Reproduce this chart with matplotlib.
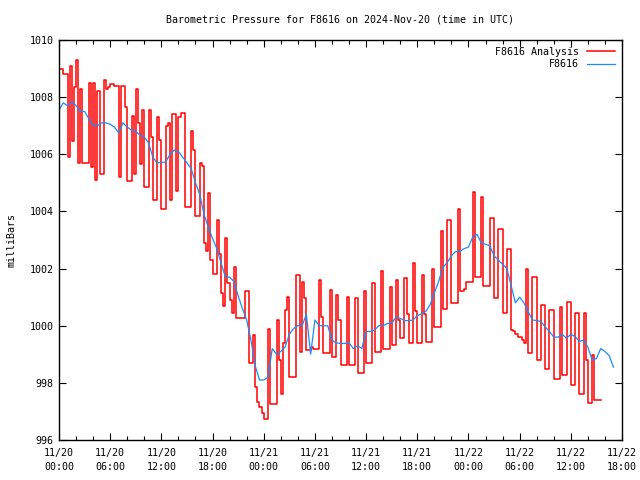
import numpy as np
import pandas as pd
import matplotlib
matplotlib.use("Agg")
import matplotlib.pyplot as plt
import matplotlib.dates as mdates

START = pd.Timestamp("2024-11-20 00:00")
RED_STEP_H = 0.25
BLUE_STEP_H = 0.5

# F8616 Analysis (red), quarter-hour samples from 11/20 00:00 (two hours per row)
analysis_mb = [
    1009.0, 1009.0, 1008.8, 1008.8, 1005.9, 1009.1, 1006.45, 1008.35,
    1009.3, 1005.7, 1008.3, 1005.7, 1005.7, 1005.7, 1008.5, 1005.55,
    1008.5, 1005.1, 1008.2, 1005.3, 1005.3, 1008.6, 1008.3, 1008.35,
    1008.45, 1008.45, 1008.4, 1008.4, 1005.2, 1008.4, 1008.4, 1007.65,
    1005.05, 1005.05, 1007.35, 1005.3, 1008.3, 1007.1, 1005.65, 1007.55,
    1004.85, 1004.85, 1007.55, 1006.6, 1004.4, 1004.4, 1007.3, 1006.5,
    1004.1, 1004.1, 1007.0, 1007.1, 1004.4, 1007.4, 1007.4, 1004.7,
    1007.3, 1007.45, 1007.45, 1004.15, 1004.15, 1004.15, 1006.8, 1006.15,
    1003.85, 1003.85, 1005.7, 1005.6, 1002.9, 1002.6, 1004.65, 1002.3,
    1001.8, 1001.8, 1003.7, 1002.5, 1001.15, 1000.7, 1003.07, 1001.5,
    1000.9, 1000.45, 1002.07, 1000.27, 1000.27, 1000.27, 1000.27, 1001.2,
    1001.2, 998.7, 998.7, 999.68, 997.87, 997.34, 997.17, 996.94,
    996.73, 996.73, 999.9, 997.26, 997.26, 997.26, 1000.2, 998.8,
    997.6, 999.38, 1000.55, 1001.0, 998.2, 998.2, 998.2, 1001.77,
    1001.77, 999.09, 1001.54, 1000.97, 999.15, 999.15, 999.25, 999.2,
    999.2, 999.2, 1001.6, 1000.3, 999.03, 999.03, 999.03, 1001.25,
    998.92, 998.92, 1001.08, 1000.2, 998.62, 998.62, 998.62, 1001.0,
    998.62, 998.62, 998.62, 1000.97, 998.36, 998.36, 998.36, 1001.2,
    998.7, 998.7, 998.7, 1001.5, 999.09, 999.09, 999.09, 1001.9,
    999.2, 999.2, 999.2, 1001.37, 999.33, 999.33, 1001.6, 1000.2,
    999.56, 999.56, 1001.67, 1000.4, 999.38, 999.38, 1002.2, 1000.5,
    999.38, 999.38, 1001.77, 1000.4, 999.44, 999.44, 999.44, 1002.0,
    999.97, 999.97, 999.97, 1003.3, 1000.6, 1000.6, 1003.7, 1003.7,
    1000.78, 1000.78, 1000.78, 1004.07, 1001.2, 1001.2, 1001.3, 1001.54,
    1001.54, 1001.54, 1004.69, 1001.72, 1001.72, 1001.72, 1004.5, 1001.38,
    1001.38, 1001.38, 1003.77, 1003.77, 1000.97, 1000.97, 1003.4, 1003.4,
    1000.43, 1000.43, 1002.68, 1002.68, 999.85, 999.8, 999.7, 999.62,
    999.6, 999.5, 999.4, 1001.98, 999.03, 999.03, 1001.72, 1001.72,
    998.8, 998.8, 1000.73, 1000.73, 998.47, 998.47, 1000.55, 1000.55,
    998.12, 998.12, 998.12, 1000.67, 998.27, 998.27, 1000.84, 1000.84,
    997.92, 997.92, 1000.45, 1000.45, 997.6, 997.6, 1000.43, 998.8,
    997.3, 997.3, 998.98, 997.4, 997.4, 997.4, 997.4,
]

# F8616 observed (blue), half-hour samples from 11/20 00:00
station_mb = [
    1007.55, 1007.8, 1007.7, 1007.85, 1007.7, 1007.5, 1007.5, 1007.25, 1007.0, 1007.0,
    1007.1, 1007.1, 1007.05, 1006.95, 1006.75, 1007.1, 1006.95, 1006.85, 1006.8, 1006.67,
    1006.6, 1006.4, 1005.9, 1005.7, 1005.72, 1005.72, 1006.0, 1006.15, 1006.1, 1005.9,
    1005.7, 1005.5, 1005.0, 1004.6, 1003.9, 1003.45, 1003.05, 1002.7, 1002.2, 1001.7,
    1001.7, 1001.55, 1001.05, 1000.6, 1000.2, 999.5, 998.6, 998.1, 998.1, 998.2,
    999.2, 999.0, 999.1, 999.25, 999.7, 999.9, 1000.0, 1000.0, 1000.4, 999.0,
    1000.2, 1000.0, 1000.0, 1000.0, 999.5, 999.4, 999.38, 999.38, 999.4, 999.2,
    999.3, 999.2, 999.8, 999.8, 999.85, 1000.0, 1000.0, 1000.08, 1000.08, 1000.3,
    1000.26, 1000.18, 1000.18, 1000.2, 1000.35, 1000.42, 1000.5, 1000.73, 1001.15, 1001.54,
    1002.05, 1002.2, 1002.45, 1002.6, 1002.6, 1002.7, 1002.75, 1003.1, 1003.2, 1002.9,
    1002.85, 1002.8, 1002.45, 1002.3, 1002.15, 1002.0, 1001.4, 1000.8, 1001.0, 1000.8,
    1000.5, 1000.2, 1000.18, 1000.15, 999.95, 999.8, 999.6, 999.6, 999.7, 999.56,
    999.7, 999.62, 999.45, 999.5, 999.25, 998.8, 998.85, 999.2, 999.1, 998.95,
    998.55,
]

t_analysis = START + pd.to_timedelta(np.arange(len(analysis_mb)) * RED_STEP_H, unit="h")
t_station = START + pd.to_timedelta(np.arange(len(station_mb)) * BLUE_STEP_H, unit="h")

FONT = "DejaVu Sans Mono"
FS = 7.2
plt.rcParams["font.family"] = FONT
plt.rcParams["font.size"] = FS

fig = plt.figure(figsize=(6.4, 4.8), dpi=100, facecolor="white")
ax = fig.add_axes([59 / 640, 40 / 480, 563 / 640, 400 / 480])

ax.plot(t_analysis, analysis_mb, color="#ff0000", lw=1.1, drawstyle="steps-post",
        label="F8616 Analysis")
ax.plot(t_station, station_mb, color="#1a8cff", lw=0.9, label="F8616")

ax.set_xlim(START, pd.Timestamp("2024-11-22 18:00"))
ax.set_ylim(996, 1010)
ax.set_yticks(np.arange(996, 1011, 2))

ax.xaxis.set_major_locator(mdates.HourLocator(byhour=[0, 6, 12, 18]))
ax.xaxis.set_minor_locator(mdates.HourLocator(interval=2))
ax.xaxis.set_major_formatter(mdates.DateFormatter("%m/%d\n%H:%M"))

ax.tick_params(which="both", direction="in", top=True, right=True, labelsize=FS)
ax.tick_params(which="major", length=5, width=0.8)
ax.tick_params(which="minor", length=3, width=0.8)
ax.tick_params(axis="x", pad=6)
ax.tick_params(axis="y", pad=4)
for lbl in ax.get_xticklabels():
    lbl.set_linespacing(1.4)
for sp in ax.spines.values():
    sp.set_linewidth(1.0)

ax.set_ylabel("milliBars", fontsize=FS, labelpad=9)
fig.text(340 / 640, 1 - 20 / 480, "Barometric Pressure for F8616 on 2024-Nov-20 (time in UTC)",
         ha="center", va="center", fontsize=FS)

ax.legend(loc="upper right", frameon=False, markerfirst=False, fontsize=FS,
          handlelength=2.8, handletextpad=0.8, labelspacing=0.25,
          borderaxespad=0.3)

fig.savefig("out.png", dpi=100, facecolor="white")
